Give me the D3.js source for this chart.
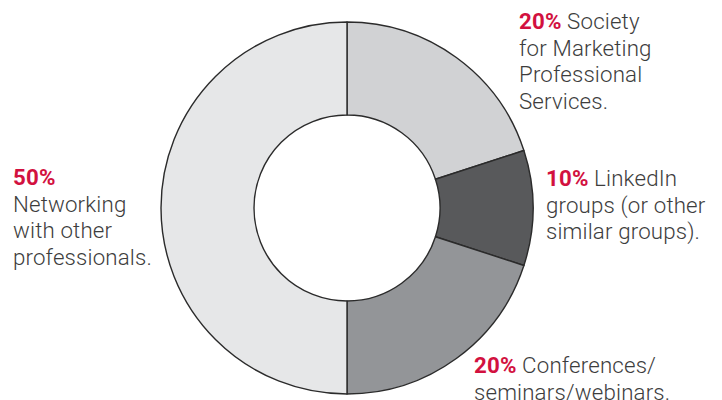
<!DOCTYPE html>
<html>
<head>
<meta charset="utf-8">
<script src="https://cdn.jsdelivr.net/npm/d3@7"></script>
<style>
  html, body { margin: 0; padding: 0; background: #ffffff; }
  svg { display: block; }
  text { font-family: Roboto, "Helvetica Neue", Arial, sans-serif; }
</style>
</head>
<body>
<svg id="chart" width="722" height="400"></svg>
<script>
// ---- data ----
const categories = ["Society for Marketing Professional Services.", "LinkedIn groups (or other similar groups).", "Conferences/ seminars/webinars.", "Networking with other professionals."];
const values = [20, 10, 20, 50];
const pctLabels = ["20%", "10%", "20%", "50%"];
const labelLines = [
  ["Society", "for Marketing", "Professional", "Services."],
  ["LinkedIn", "groups (or other", "similar groups)."],
  ["Conferences/", "seminars/webinars."],
  ["", "Networking", "with other", "professionals."]
];
const sliceColors = ["#d1d2d4", "#58595b", "#939598", "#e6e7e8"];

// ---- layout (kept separate from data) ----
const W = 722, H = 400;
const cx = 347, cy = 208, outerR = 186, innerR = 93;
const labelPos = [
  { x: 519, y: 29 },
  { x: 546, y: 186 },
  { x: 474, y: 373 },
  { x: 13,  y: 185 }
];
const lineH = 26.6;
const fontSize = 22.3;
const red = "#d2113f";
const textCol = "#3d3d3d";

const svg = d3.select("#chart");
const g = svg.append("g").attr("transform", `translate(${cx},${cy})`);

const pie = d3.pie().sort(null).value(d => d)(values);
const arc = d3.arc().innerRadius(innerR).outerRadius(outerR);

g.selectAll("path.slice")
  .data(pie)
  .join("path")
  .attr("class", "slice")
  .attr("d", arc)
  .attr("fill", (d, i) => sliceColors[i])
  .attr("stroke", "#2b2b2b")
  .attr("stroke-width", 1.4)
  .attr("stroke-linejoin", "round");

// labels
labelPos.forEach((p, i) => {
  const t = svg.append("text")
    .attr("x", p.x).attr("y", p.y)
    .attr("font-size", fontSize)
    .attr("fill", textCol)
    .attr("font-weight", 300)
    .attr("letter-spacing", 0.15);
  labelLines[i].forEach((line, j) => {
    const ts = t.append("tspan")
      .attr("x", p.x)
      .attr("y", p.y + j * lineH);
    if (j === 0) {
      ts.append("tspan")
        .attr("font-weight", 700)
        .attr("fill", red)
        .text(pctLabels[i]);
      if (line) ts.append("tspan").text(" " + line);
    } else {
      ts.text(line);
    }
  });
});
</script>
</body>
</html>
